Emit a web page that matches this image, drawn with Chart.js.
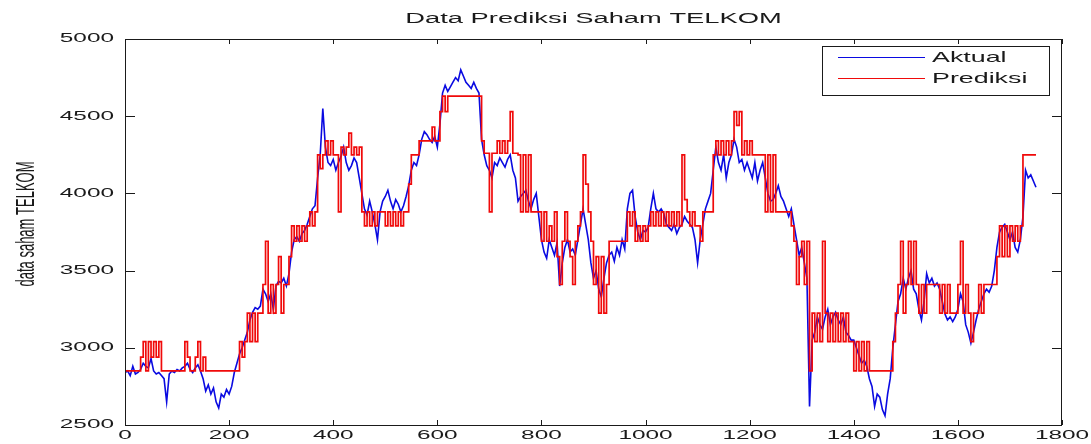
<!DOCTYPE html>
<html>
<head>
<meta charset="utf-8">
<script src="https://cdn.jsdelivr.net/npm/chart.js@4.4.1/dist/chart.umd.min.js"></script>
<style>
  html, body { margin: 0; padding: 0; background: #ffffff; }
  #wrap { width: 1091px; height: 444px; position: relative; }
</style>
</head>
<body>
<div id="wrap"><canvas id="c" width="1091" height="444"></canvas></div>
<script>
// ---- data ----
const chartTitle = "Data Prediksi Saham TELKOM";
const yAxisTitle = "data saham TELKOM";
const seriesNames = ["Aktual", "Prediksi"];
const dayStep = 5; // one value every 5 days
const xTickLabels = [0, 200, 400, 600, 800, 1000, 1200, 1400, 1600, 1800];
const yTickLabels = [2500, 3000, 3500, 4000, 4500, 5000];

const aktual = [
  2840,2850,2820,2880,2830,2840,2860,2900,2880,2870,2930,2850,2830,2840,2820,2800,2650,2830,2850,2840,
  2860,2850,2870,2880,2900,2860,2840,2870,2890,2850,2800,2720,2760,2700,2740,2650,2610,2700,2680,2730,
  2700,2750,2840,2900,2960,3000,3050,3100,3180,3230,3260,3250,3270,3380,3350,3300,3350,3250,3400,3430,
  3420,3450,3400,3480,3620,3700,3720,3690,3740,3760,3800,3850,3900,3920,4100,4250,4550,4300,4200,4180,
  4220,4150,4200,4240,4300,4200,4150,4180,4230,4200,4100,4000,3900,3860,3950,3880,3800,3700,3880,3950,
  3980,4020,3950,3900,3960,3930,3880,3920,3980,4050,4150,4200,4180,4250,4350,4400,4380,4350,4330,4370,
  4300,4450,4650,4700,4660,4690,4720,4750,4730,4800,4760,4720,4700,4680,4720,4680,4650,4350,4250,4180,
  4150,4100,4200,4180,4230,4200,4170,4220,4250,4150,4100,3950,3980,4000,4020,3950,3900,3960,4000,3850,
  3700,3620,3580,3700,3650,3600,3680,3400,3550,3650,3700,3620,3640,3600,3700,3800,3900,3800,3700,3550,
  3450,3500,3380,3330,3450,3550,3600,3620,3560,3650,3600,3700,3640,3900,4000,4020,3850,3750,3700,3760,
  3750,3780,3900,4000,3900,3880,3900,3870,3800,3780,3760,3800,3740,3780,3800,3850,3820,3800,3780,3700,
  3550,3700,3800,3900,3950,4000,4150,4300,4200,4150,4250,4100,4200,4250,4350,4300,4200,4220,4150,4200,
  4150,4100,4200,4080,4150,4200,4100,4000,3950,3960,4000,4050,3980,3950,3900,3850,3900,3800,3700,3600,
  3650,3550,3450,2620,3050,3100,3200,3150,3120,3200,3250,3150,3200,3230,3180,3150,3200,3100,3080,3050,
  3050,3000,2950,2900,2920,2880,2800,2750,2620,2700,2680,2600,2560,2700,2800,3000,3150,3300,3350,3450,
  3380,3450,3500,3380,3350,3250,3180,3300,3480,3420,3450,3400,3420,3380,3300,3220,3180,3200,3170,3200,
  3250,3350,3300,3150,3100,3030,3100,3180,3250,3300,3350,3380,3360,3400,3500,3650,3750,3780,3800,3750,
  3700,3750,3650,3620,3700,3850,4150,4100,4120,4080,4040
];

const prediksi = [
  2850,2850,2850,2850,2850,2850,2940,3040,2850,3040,2940,3040,2940,3040,2850,2850,2850,2850,2850,2850,
  2850,2850,2850,3040,2940,2850,2850,2940,3040,2850,2940,2850,2850,2850,2850,2850,2850,2850,2850,2850,
  2850,2850,2850,2850,3040,2940,3040,3225,3040,3225,3040,3225,3225,3410,3690,3225,3410,3225,3410,3590,
  3225,3410,3410,3590,3790,3690,3790,3690,3790,3690,3790,3880,3790,3880,4250,4160,4250,4340,4250,4340,
  4250,4250,3880,4300,4250,4300,4390,4250,4300,4250,4300,3880,3790,3880,3790,3880,3790,3880,3880,3880,
  3790,3880,3790,3880,3790,3880,3790,3880,3880,4060,4250,4250,4250,4340,4340,4340,4340,4340,4430,4340,
  4340,4530,4630,4530,4630,4630,4630,4630,4630,4630,4630,4630,4630,4630,4630,4630,4630,4340,4260,4260,
  3880,4260,4260,4340,4260,4340,4260,4340,4530,4260,4260,4250,3880,4250,3880,4250,3880,3880,3880,3880,
  3690,3880,3690,3790,3690,3880,3590,3410,3690,3880,3690,3590,3410,3690,3790,3880,4250,4060,3880,3690,
  3410,3590,3225,3590,3225,3410,3690,3690,3690,3690,3690,3690,3690,3880,3790,3880,3690,3790,3690,3790,
  3690,3790,3880,3790,3880,3790,3880,3790,3880,3790,3880,3790,3880,3790,4250,3960,3880,3790,3880,3790,
  3790,3690,3880,3880,3880,3880,4250,4340,4250,4340,4250,4340,4250,4340,4530,4440,4530,4250,4340,4250,
  4340,4250,4250,4250,4250,4250,3880,4250,3880,4250,3880,3880,3880,3880,3880,3880,3790,3690,3410,3590,
  3690,3410,3690,2850,3225,3040,3225,3040,3690,3225,3040,3225,3040,3225,3040,3225,3040,3225,3040,3040,
  2850,3040,2850,3040,2850,3040,2850,2850,2850,2850,2850,2850,2850,2850,2850,3040,3225,3410,3690,3225,
  3410,3690,3410,3690,3410,3225,3410,3225,3410,3410,3410,3410,3410,3225,3410,3225,3410,3225,3225,3225,
  3410,3690,3225,3410,3225,3040,3225,3225,3410,3225,3410,3410,3410,3410,3410,3590,3790,3590,3790,3590,
  3790,3690,3790,3690,3790,4250,4250,4250,4250,4250,4250
];

// ---- styling ----
const FONT = '"Liberation Sans", Arial, Helvetica, sans-serif';
const STRETCH = 1.95; // the reference image is stretched horizontally
const BLUE = 'rgb(10,10,225)';
const RED = 'rgb(240,10,10)';

function toPoints(arr) { return arr.map((v, i) => ({ x: i * dayStep, y: v })); }

function stretchedText(ctx, text, x, y, align, baseline, font, sx) {
  ctx.save();
  ctx.font = font;
  ctx.textAlign = align;
  ctx.textBaseline = baseline;
  ctx.translate(x, y);
  ctx.scale(sx, 1);
  ctx.fillText(text, 0, 0);
  ctx.restore();
}

const matlabAxes = {
  id: 'matlabAxes',
  afterDraw(chart) {
    const ctx = chart.ctx;
    const a = chart.chartArea;
    const xs = chart.scales.x, ys = chart.scales.y;
    ctx.save();
    // frame
    ctx.strokeStyle = '#1a1a1a';
    ctx.lineWidth = 1;
    ctx.strokeRect(Math.round(a.left) + 0.5, Math.round(a.top) + 0.5,
                   Math.round(a.right - a.left) - 1, Math.round(a.bottom - a.top));
    // ticks (inward, all four sides)
    ctx.beginPath();
    xs.ticks.forEach(t => {
      const px = Math.round(xs.getPixelForValue(t.value)) + 0.5;
      ctx.moveTo(px, a.bottom); ctx.lineTo(px, a.bottom - 5);
      ctx.moveTo(px, a.top); ctx.lineTo(px, a.top + 5);
    });
    ys.ticks.forEach(t => {
      const py = Math.round(ys.getPixelForValue(t.value)) + 0.5;
      ctx.moveTo(a.left, py); ctx.lineTo(a.left + 10, py);
      ctx.moveTo(a.right, py); ctx.lineTo(a.right - 10, py);
    });
    ctx.stroke();

    // tick labels
    ctx.fillStyle = '#1a1a1a';
    const tickFont = '12.5px ' + FONT;
    xs.ticks.forEach(t => {
      stretchedText(ctx, String(t.value), xs.getPixelForValue(t.value), a.bottom + 11,
                    'center', 'middle', tickFont, STRETCH);
    });
    ys.ticks.forEach(t => {
      stretchedText(ctx, String(t.value), a.left - 11, ys.getPixelForValue(t.value),
                    'right', 'middle', tickFont, STRETCH);
    });

    // title
    stretchedText(ctx, chartTitle, (a.left + a.right) / 2, 19, 'center', 'middle',
                  '14px ' + FONT, STRETCH);

    // y-axis title (rotated; stretch acts on glyph height)
    ctx.save();
    ctx.font = '13px ' + FONT;
    ctx.textAlign = 'center';
    ctx.textBaseline = 'middle';
    ctx.translate(27, 224);
    ctx.scale(STRETCH, 1);
    ctx.rotate(-Math.PI / 2);
    ctx.fillText(yAxisTitle, 0, 0);
    ctx.restore();

    // legend box
    const lx = 822, ly = 46, lw = 227, lh = 49;
    ctx.fillStyle = '#fff';
    ctx.fillRect(lx, ly, lw, lh);
    ctx.strokeStyle = '#1a1a1a';
    ctx.lineWidth = 1;
    ctx.strokeRect(lx + 0.5, ly + 0.5, lw, lh);
    const rows = [57, 78];
    chart.data.datasets.forEach((ds, i) => {
      ctx.strokeStyle = ds.borderColor;
      ctx.lineWidth = 1;
      ctx.beginPath();
      ctx.moveTo(838, rows[i] + 0.5);
      ctx.lineTo(925, rows[i] + 0.5);
      ctx.stroke();
      ctx.fillStyle = '#1a1a1a';
      stretchedText(ctx, ds.label, 932, rows[i] + 1, 'left', 'middle', '14.5px ' + FONT, 1.85);
    });
    ctx.restore();
  }
};

new Chart(document.getElementById('c'), {
  type: 'line',
  data: {
    datasets: [
      { label: seriesNames[0], data: toPoints(aktual), borderColor: BLUE, borderWidth: 1.6,
        pointRadius: 0, tension: 0, order: 1 },
      { label: seriesNames[1], data: toPoints(prediksi), borderColor: RED, borderWidth: 1.7,
        pointRadius: 0, tension: 0, stepped: true, order: 0 }
    ]
  },
  options: {
    responsive: false,
    animation: false,
    events: [],
    layout: { padding: { top: 39, right: 29, left: 0, bottom: 0 } },
    plugins: { legend: { display: false }, title: { display: false }, tooltip: { enabled: false } },
    scales: {
      x: {
        type: 'linear', min: xTickLabels[0], max: xTickLabels[xTickLabels.length - 1],
        ticks: { display: false, stepSize: 200 },
        grid: { display: false }, border: { display: false },
        afterFit: s => { s.height = 19; }
      },
      y: {
        type: 'linear', min: yTickLabels[0], max: yTickLabels[yTickLabels.length - 1],
        ticks: { display: false, stepSize: 500 },
        grid: { display: false }, border: { display: false },
        afterFit: s => { s.width = 125; }
      }
    }
  },
  plugins: [matlabAxes]
});
</script>
</body>
</html>
